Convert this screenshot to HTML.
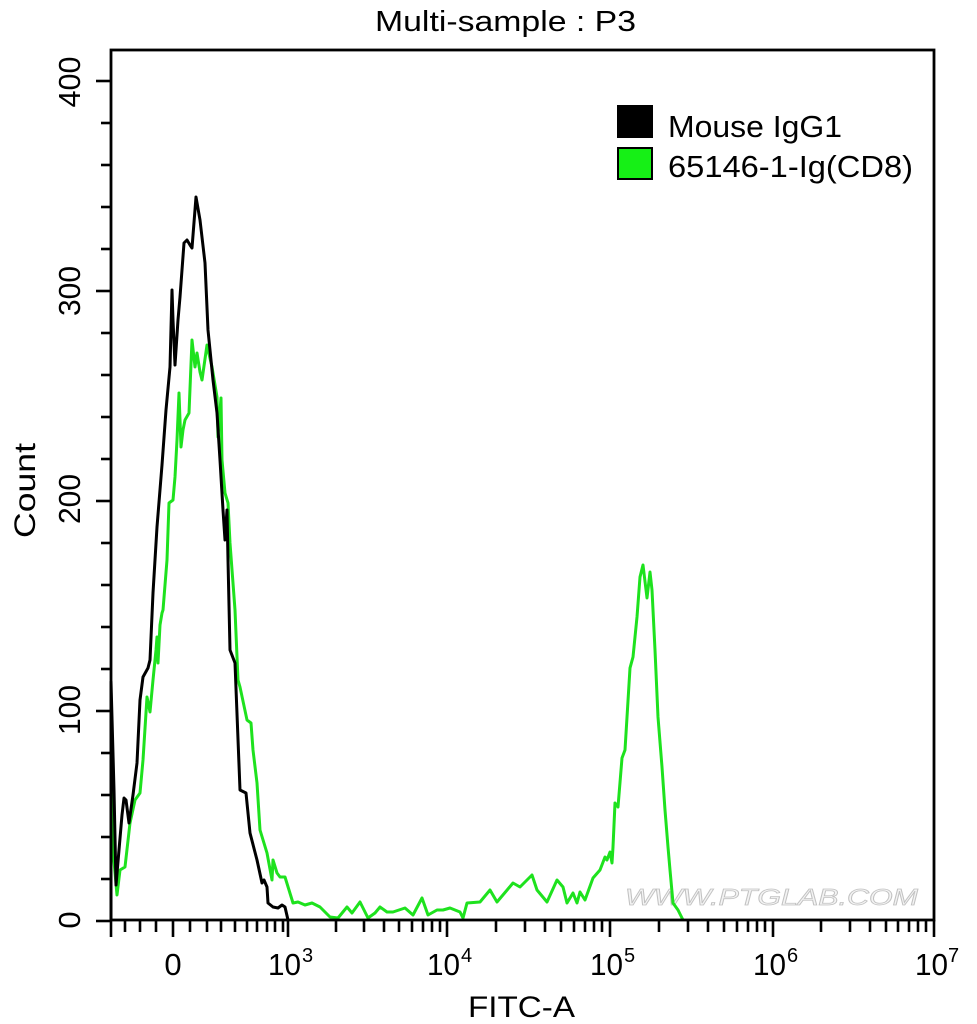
<!DOCTYPE html>
<html>
<head>
<meta charset="utf-8">
<style>
  html,body{margin:0;padding:0;background:#fff;}
  svg{display:block;}
  text{font-family:"Liberation Sans", Arial, sans-serif;}
</style>
</head>
<body>
<svg width="977" height="1024" viewBox="0 0 977 1024" xmlns="http://www.w3.org/2000/svg">
<rect x="0" y="0" width="977" height="1024" fill="#fff"/>
<text x="375" y="31" font-size="29" fill="#000" textLength="261" lengthAdjust="spacingAndGlyphs">Multi-sample : P3</text>
<text x="625" y="905" font-size="23" font-style="italic" style="fill:#f4f4f4" stroke="#c2c2c2" stroke-width="0.8" textLength="293" lengthAdjust="spacingAndGlyphs">WWW.PTGLAB.COM</text>
<polyline fill="none" stroke="#1ee21e" stroke-width="3" stroke-linejoin="round" points="111,720 113,850 117,895 120,870 125,867 130,823 135,800 140,793 143,760 147,697 150,712 153,680 156,650 157,637 158,663 160,625 162,613 163,610 167,560 169,503 173,500 175,477 177,440 179,393 181,447 183,430 185,420 189,413 192,340 195,367 197,353 200,372 202,380 207,345 212,367 217,397 218,437 221,398 222,460 225,493 228,503 230,543 235,610 238,680 240,687 247,720 251,723 253,750 257,783 260,830 267,853 272,880 273,860 277,873 280,877 285,877 293,903 298,902 305,905 312,903 320,907 330,917 338,918 347,907 352,913 360,902 368,918 375,913 380,907 387,912 393,912 405,908 413,915 422,898 428,915 437,910 443,910 450,908 460,912 463,918 467,903 480,902 490,890 497,902 513,883 520,887 532,875 537,890 547,902 557,880 563,887 567,903 573,893 577,903 580,892 585,900 593,878 600,870 605,857 607,860 610,852 612,863 613,847 615,803 618,807 622,758 625,750 630,668 633,657 637,617 640,577 643,565 647,598 650,572 652,590 655,650 658,717 662,767 665,810 668,847 670,870 673,903 678,910 683,920"/>
<polyline fill="none" stroke="#000" stroke-width="3" stroke-linejoin="round" points="111,920 111,682 114,790 116,885 119,850 122,815 124,798 126,800 129,823 133,795 137,763 140,700 143,677 148,668 150,660 153,593 157,527 162,465 166,410 170,367 172,290 173,320 175,365 178,320 180,297 184,243 187,240 190,245 192,248 196,197 200,220 205,263 208,330 213,380 217,413 220,460 223,510 225,540 227,510 228,560 230,650 235,663 240,790 246,793 250,833 257,860 262,883 264,880 267,887 268,903 273,907 278,908 282,905 285,907 288,920"/>
<rect x="111" y="50" width="823" height="870" fill="none" stroke="#000" stroke-width="2.8"/>
<g stroke="#000" stroke-width="2.6">
<line x1="96" y1="921" x2="111" y2="921"/>
<line x1="101" y1="879" x2="111" y2="879"/>
<line x1="101" y1="837" x2="111" y2="837"/>
<line x1="101" y1="795" x2="111" y2="795"/>
<line x1="101" y1="753" x2="111" y2="753"/>
<line x1="96" y1="711" x2="111" y2="711"/>
<line x1="101" y1="669" x2="111" y2="669"/>
<line x1="101" y1="627" x2="111" y2="627"/>
<line x1="101" y1="585" x2="111" y2="585"/>
<line x1="101" y1="543" x2="111" y2="543"/>
<line x1="96" y1="501" x2="111" y2="501"/>
<line x1="101" y1="459" x2="111" y2="459"/>
<line x1="101" y1="417" x2="111" y2="417"/>
<line x1="101" y1="375" x2="111" y2="375"/>
<line x1="101" y1="333" x2="111" y2="333"/>
<line x1="96" y1="291" x2="111" y2="291"/>
<line x1="101" y1="249" x2="111" y2="249"/>
<line x1="101" y1="207" x2="111" y2="207"/>
<line x1="101" y1="165" x2="111" y2="165"/>
<line x1="101" y1="123" x2="111" y2="123"/>
<line x1="96" y1="81" x2="111" y2="81"/>
</g>
<g fill="#000" font-size="31" text-anchor="middle">
<text transform="translate(80,920) rotate(-90)">0</text>
<text transform="translate(80,710) rotate(-90)" textLength="50" lengthAdjust="spacingAndGlyphs">100</text>
<text transform="translate(80,499) rotate(-90)" textLength="50" lengthAdjust="spacingAndGlyphs">200</text>
<text transform="translate(80,291) rotate(-90)" textLength="50" lengthAdjust="spacingAndGlyphs">300</text>
<text transform="translate(80,82) rotate(-90)" textLength="51" lengthAdjust="spacingAndGlyphs">400</text>
</g>
<text transform="translate(35,538) rotate(-90)" font-size="30" fill="#000" textLength="95" lengthAdjust="spacingAndGlyphs">Count</text>
<g stroke="#000" stroke-width="2.6">
<line x1="111" y1="920" x2="111" y2="937"/>
<line x1="173" y1="920" x2="173" y2="937"/>
<line x1="288" y1="920" x2="288" y2="937"/>
<line x1="447" y1="920" x2="447" y2="937"/>
<line x1="610" y1="920" x2="610" y2="937"/>
<line x1="773" y1="920" x2="773" y2="937"/>
<line x1="934" y1="920" x2="934" y2="937"/>
<line x1="125" y1="920" x2="125" y2="932"/>
<line x1="140" y1="920" x2="140" y2="932"/>
<line x1="156" y1="920" x2="156" y2="932"/>
<line x1="190" y1="920" x2="190" y2="932"/>
<line x1="207" y1="920" x2="207" y2="932"/>
<line x1="221" y1="920" x2="221" y2="932"/>
<line x1="235" y1="920" x2="235" y2="932"/>
<line x1="247" y1="920" x2="247" y2="932"/>
<line x1="257" y1="920" x2="257" y2="932"/>
<line x1="267" y1="920" x2="267" y2="932"/>
<line x1="275" y1="920" x2="275" y2="932"/>
<line x1="283" y1="920" x2="283" y2="932"/>
<line x1="336" y1="920" x2="336" y2="932"/>
<line x1="364" y1="920" x2="364" y2="932"/>
<line x1="384" y1="920" x2="384" y2="932"/>
<line x1="399" y1="920" x2="399" y2="932"/>
<line x1="412" y1="920" x2="412" y2="932"/>
<line x1="423" y1="920" x2="423" y2="932"/>
<line x1="432" y1="920" x2="432" y2="932"/>
<line x1="440" y1="920" x2="440" y2="932"/>
<line x1="496" y1="920" x2="496" y2="932"/>
<line x1="525" y1="920" x2="525" y2="932"/>
<line x1="545" y1="920" x2="545" y2="932"/>
<line x1="561" y1="920" x2="561" y2="932"/>
<line x1="574" y1="920" x2="574" y2="932"/>
<line x1="585" y1="920" x2="585" y2="932"/>
<line x1="594" y1="920" x2="594" y2="932"/>
<line x1="602" y1="920" x2="602" y2="932"/>
<line x1="659" y1="920" x2="659" y2="932"/>
<line x1="688" y1="920" x2="688" y2="932"/>
<line x1="708" y1="920" x2="708" y2="932"/>
<line x1="724" y1="920" x2="724" y2="932"/>
<line x1="737" y1="920" x2="737" y2="932"/>
<line x1="748" y1="920" x2="748" y2="932"/>
<line x1="757" y1="920" x2="757" y2="932"/>
<line x1="765" y1="920" x2="765" y2="932"/>
<line x1="821" y1="920" x2="821" y2="932"/>
<line x1="850" y1="920" x2="850" y2="932"/>
<line x1="870" y1="920" x2="870" y2="932"/>
<line x1="886" y1="920" x2="886" y2="932"/>
<line x1="898" y1="920" x2="898" y2="932"/>
<line x1="909" y1="920" x2="909" y2="932"/>
<line x1="918" y1="920" x2="918" y2="932"/>
<line x1="926" y1="920" x2="926" y2="932"/>
</g>
<text x="173" y="975" font-size="31" fill="#000" text-anchor="middle">0</text>
<g font-size="31" fill="#000">
<text x="268" y="975" textLength="33" lengthAdjust="spacingAndGlyphs">10</text>
<text x="427" y="975" textLength="33" lengthAdjust="spacingAndGlyphs">10</text>
<text x="590" y="975" textLength="33" lengthAdjust="spacingAndGlyphs">10</text>
<text x="753" y="975" textLength="33" lengthAdjust="spacingAndGlyphs">10</text>
<text x="915" y="975" textLength="33" lengthAdjust="spacingAndGlyphs">10</text>
</g>
<g font-size="20" fill="#000">
<text x="302" y="962">3</text>
<text x="461" y="962">4</text>
<text x="624" y="962">5</text>
<text x="787" y="962">6</text>
<text x="948" y="962">7</text>
</g>
<text x="468" y="1017" font-size="30" fill="#000" textLength="107" lengthAdjust="spacingAndGlyphs">FITC-A</text>
<rect x="617" y="105" width="36" height="33" fill="#000"/>
<rect x="618" y="148" width="34" height="31" fill="#16f016" stroke="#000" stroke-width="2"/>
<text x="668" y="137" font-size="31" fill="#000" textLength="174" lengthAdjust="spacingAndGlyphs">Mouse IgG1</text>
<text x="668" y="177" font-size="31" fill="#000" textLength="245" lengthAdjust="spacingAndGlyphs">65146-1-Ig(CD8)</text>
</svg>
</body>
</html>
